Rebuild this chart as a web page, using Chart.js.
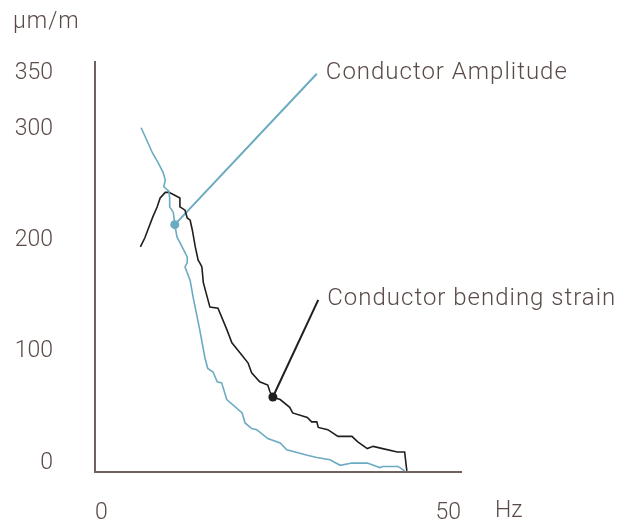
<!DOCTYPE html>
<html>
<head>
<meta charset="utf-8">
<script src="https://cdn.jsdelivr.net/npm/chart.js@4"></script>
<style>
  html, body { margin: 0; padding: 0; background: #fff; }
  #wrap { width: 631px; height: 524px; }
</style>
</head>
<body>
<div id="wrap"><canvas id="myChart"></canvas></div>
<script>
"use strict";

// frequency (Hz) / strain (µm/m)
var ampHz  = [6.3, 7.2, 7.8, 8.6, 9.3, 9.6, 9.4, 10.1, 10.2, 10.2, 10.7, 10.9, 11.2, 11.9, 12.6, 12.6, 12.3, 13.0, 13.4, 14.3, 15.0, 15.4, 16.1, 16.7, 17.3, 18.0, 20.1, 20.5, 21.4, 22.1, 23.6, 25.3, 26.2, 29.0, 30.3, 32.1, 33.5, 35.1, 37.2, 38.9, 39.3, 41.4, 42.3];
var ampVal = [301, 288, 279, 270, 261, 254, 248, 244, 238, 230, 225, 214, 203, 194, 185, 180, 176, 164, 149, 120, 95, 85, 82, 73, 72, 57, 45, 36, 31, 30, 22, 18, 12, 7, 5, 3, -2, 0, 0, -4, -3, -3, -7];

var bendHz  = [6.2, 6.8, 7.2, 7.9, 8.5, 8.9, 9.6, 10.1, 10.7, 11.6, 11.6, 12.3, 12.6, 13.0, 13.3, 13.7, 14.1, 14.3, 14.6, 14.8, 15.7, 16.8, 18.0, 18.7, 19.8, 20.9, 21.4, 22.5, 23.6, 23.9, 24.3, 25.3, 26.6, 27.0, 29.0, 29.6, 30.3, 30.5, 31.8, 33.2, 35.1, 35.9, 37.2, 38.0, 39.3, 41.3, 42.3, 42.6];
var bendVal = [194, 202, 209, 221, 230, 238, 243, 243, 241, 238, 230, 227, 220, 218, 209, 194, 182, 180, 176, 162, 140, 139, 120, 108, 99, 90, 81, 73, 70, 64, 59, 57, 50, 45, 41, 37, 37, 32, 30, 24, 24, 19, 13, 15, 13, 10, 10, -7];

var xTicks = [0, 50];
var yTicks = [0, 100, 200, 300, 350];

// callouts: marker on the curve -> end of the leader line
var ampMark  = [10.9, 214];
var ampEnd   = [30.3, 349.5];
var bendMark = [24.3, 59.3];
var bendEnd  = [30.5, 146.5];

var ampLabel  = "Conductor Amplitude";
var bendLabel = "Conductor bending strain";
var yUnit = "μm/m";
var xUnit = "Hz";

var textColor = '#5a4b48';
var axisColor = '#6e625f';
var blue = '#6aabc1';
var black = '#1f1f1f';

function pts(xs, ys) {
    return xs.map(function(x, i){ return {x: x, y: ys[i]}; });
}

var labelsPlugin = {
    id: 'labels',
    afterDraw: function(chart) {
        var ctx = chart.ctx;
        var xs = chart.scales.x, ys = chart.scales.y;
        ctx.save();
        ctx.fillStyle = textColor;
        ctx.font = '300 24px Roboto';
        ctx.letterSpacing = '1px';
        ctx.textBaseline = 'middle';
        ctx.textAlign = 'left';
        ctx.fillText(ampLabel, xs.getPixelForValue(ampEnd[0]) + 9, ys.getPixelForValue(ampEnd[1]) - 1);
        ctx.fillText(bendLabel, xs.getPixelForValue(bendEnd[0]) + 9, ys.getPixelForValue(bendEnd[1]) - 1);
        ctx.font = '300 23px Roboto';
        ctx.fillText(yUnit, 13, 22);
        ctx.letterSpacing = '0px';
        ctx.fillText(xUnit, xs.right + 34, 511);
        ctx.restore();
    }
};

var myChart = document.getElementById('myChart').getContext('2d');
var chart = new Chart(myChart, {
    type: 'scatter',
    data: {
        datasets: [{
            label: ampLabel,
            data: pts(ampHz, ampVal),
            showLine: true,
            borderColor: blue,
            borderWidth: 1.6,
            pointRadius: 0,
        },
        {
            label: bendLabel,
            data: pts(bendHz, bendVal),
            showLine: true,
            borderColor: black,
            borderWidth: 1.6,
            pointRadius: 0,
        },
        {
            label: 'amp-leader',
            data: pts([ampMark[0], ampEnd[0]], [ampMark[1], ampEnd[1]]),
            showLine: true,
            borderColor: blue,
            backgroundColor: blue,
            borderWidth: 2,
            pointRadius: [4.5, 0],
            pointBorderWidth: 0,
        },
        {
            label: 'bend-leader',
            data: pts([bendMark[0], bendEnd[0]], [bendMark[1], bendEnd[1]]),
            showLine: true,
            borderColor: black,
            backgroundColor: black,
            borderWidth: 2,
            pointRadius: [4.5, 0],
            pointBorderWidth: 0,
        }]
    },
    options: {
        responsive: true,
        maintainAspectRatio: false,
        animation: false,
        events: [],
        layout: { padding: { left: 0, right: 170, top: 62, bottom: 0 } },
        plugins: {
            legend: { display: false },
            tooltip: { enabled: false },
        },
        scales: {
            x: {
                type: 'linear',
                min: 0,
                max: 50,
                afterBuildTicks: function(s){ s.ticks = xTicks.map(function(v){ return {value: v}; }); },
                afterFit: function(s){ s.height = 52; s.paddingLeft = 0; s.paddingRight = 0; },
                grid: { display: false, drawTicks: false },
                border: { display: true, color: axisColor, width: 2 },
                ticks: {
                    align: 'inner',
                    padding: 27,
                    color: textColor,
                    font: { family: 'Roboto', size: 23, weight: 300 },
                },
            },
            y: {
                min: -8,
                max: 360,
                afterBuildTicks: function(s){ s.ticks = yTicks.map(function(v){ return {value: v}; }); },
                afterFit: function(s){ s.width = 95; s.paddingTop = 0; s.paddingBottom = 0; },
                grid: { display: false, drawTicks: false },
                border: { display: true, color: axisColor, width: 2 },
                ticks: {
                    padding: 42,
                    color: textColor,
                    font: { family: 'Roboto', size: 23, weight: 300 },
                },
            }
        }
    },
    plugins: [labelsPlugin]
});
</script>
</body>
</html>
